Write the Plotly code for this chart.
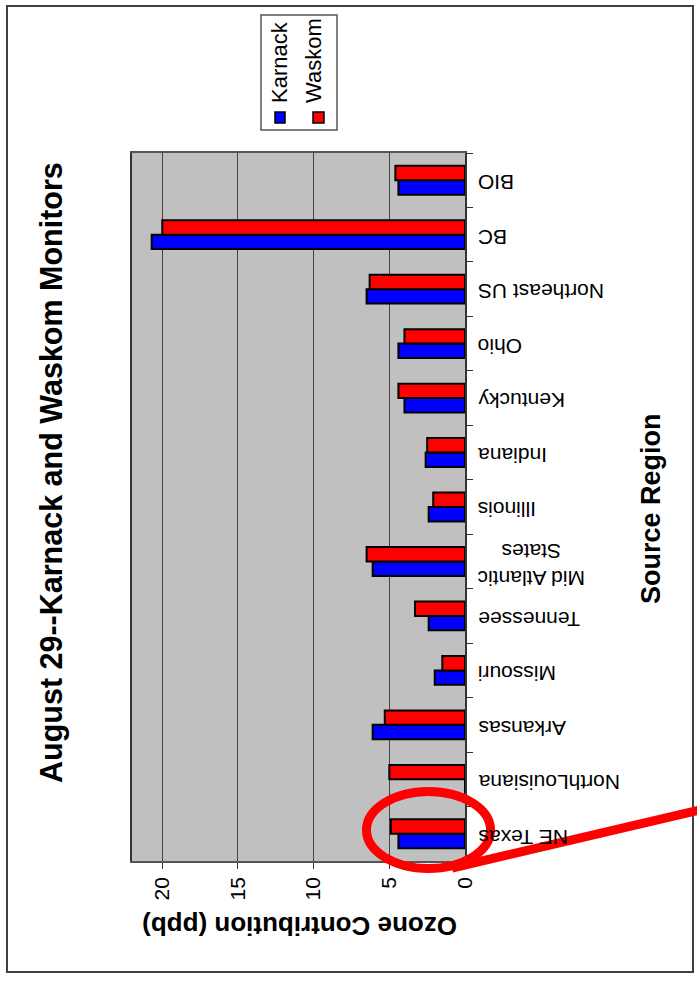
import plotly.graph_objects as go

# ---- data ----
regions = ["NE Texas", "NorthLouisiana", "Arkansas", "Missouri", "Tennessee",
           "Mid Atlantic<br>States", "Illinois", "Indiana", "Kentucky", "Ohio",
           "Northeast US", "BC", "BIO"]
karnack = [4.4, 0.0, 6.1, 2.0, 2.4, 6.1, 2.4, 2.6, 4.0, 4.4, 6.5, 20.7, 4.4]
waskom = [4.9, 5.0, 5.3, 1.5, 3.3, 6.5, 2.1, 2.5, 4.4, 4.0, 6.3, 20.0, 4.6]
value_ticks = [0, 5, 10, 15, 20]

title_text = "August 29--Karnack and Waskom Monitors"
value_title = "Ozone Contribution (ppb)"
category_title = "Source Region"

FONT = "Liberation Sans, Arial, sans-serif"
W, H = 697, 981
L, R, T, B = 132, 465, 153, 861


def px(x):
    return (x - L) / (R - L)


def py(y):
    return (B - y) / (B - T)


fig = go.Figure()
fig.add_trace(go.Bar(name="Karnack", y=regions, x=karnack, orientation="h",
                     marker=dict(color="#0000FF", line=dict(color="black", width=2))))
fig.add_trace(go.Bar(name="Waskom", y=regions, x=waskom, orientation="h",
                     marker=dict(color="#FF0000", line=dict(color="black", width=2))))

fig.update_layout(
    width=W, height=H,
    margin=dict(l=L, r=W - R, t=T, b=H - B, pad=0),
    paper_bgcolor="white",
    plot_bgcolor="#C0C0C0",
    barmode="group",
    bargap=0.47,
    bargroupgap=0,
    showlegend=False,
    font=dict(family=FONT, color="black", size=21),
    xaxis=dict(
        range=[22, 0], tickvals=value_ticks, ticks="outside", ticklen=6,
        tickcolor="#333", tickangle=-90, showgrid=True, gridcolor="#444",
        gridwidth=1, zeroline=False, showline=True, linecolor="#555",
        linewidth=1.5, mirror=True, tickfont=dict(size=21),
    ),
    yaxis=dict(
        side="right", type="category", categoryarray=regions,
        ticks="outside", ticklen=6, tickcolor="#333", tickson="boundaries",
        showticklabels=False, showgrid=False, showline=True,
        linecolor="#333", linewidth=1.5, mirror=True,
    ),
)

annotations = [
    dict(text="<b>%s</b>" % title_text, x=px(51), y=py(473), textangle=-90,
         font=dict(size=30.5)),
    dict(text="<b>%s</b>" % value_title, x=px(300), y=py(926), textangle=180,
         font=dict(size=26)),
    dict(text="<b>%s</b>" % category_title, x=px(651), y=py(509), textangle=-90,
         font=dict(size=27)),
    dict(text="Karnack", x=px(279), y=py(62), textangle=-90, font=dict(size=22)),
    dict(text="Waskom", x=px(314), y=py(61), textangle=-90, font=dict(size=22)),
]
for a in annotations:
    a.update(xref="paper", yref="paper", showarrow=False,
             xanchor="center", yanchor="middle")

# category labels (upside down, placed on the category axis)
for r in regions:
    annotations.append(dict(text=r, x=px(476), xref="paper", y=r, yref="y",
                            yshift=-3, textangle=180, showarrow=False,
                            xanchor="left", yanchor="middle", align="center",
                            font=dict(size=21)))
fig.update_layout(annotations=annotations)

shapes = [
    # outer frame
    dict(type="rect", x0=px(7), x1=px(693), y0=py(6), y1=py(972),
         line=dict(color="#404040", width=2)),
    # legend box
    dict(type="rect", x0=px(261), x1=px(337), y0=py(15), y1=py(130),
         line=dict(color="#555", width=1.5), fillcolor="white"),
    dict(type="rect", x0=px(275), x1=px(285), y0=py(112), y1=py(123),
         line=dict(color="black", width=1.5), fillcolor="#0000FF"),
    dict(type="rect", x0=px(313), x1=px(324), y0=py(112), y1=py(123),
         line=dict(color="black", width=1.5), fillcolor="#FF0000"),
    # red highlight
    dict(type="circle", x0=px(366.5), x1=px(490.5), y0=py(791.5), y1=py(868.5),
         line=dict(color="#FF0000", width=9)),
    dict(type="line", x0=px(452), y0=py(868), x1=px(700), y1=py(810),
         line=dict(color="#FF0000", width=9)),
]
for s in shapes:
    s.update(xref="paper", yref="paper", layer="above")
fig.update_layout(shapes=shapes)

fig.write_html("out.html")
